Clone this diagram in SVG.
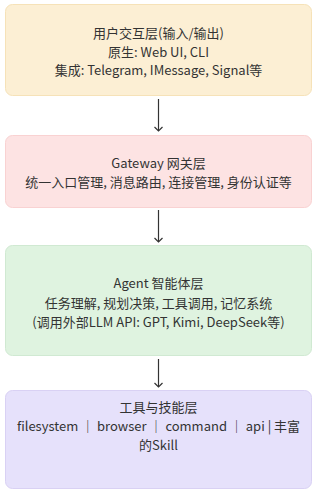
<svg xmlns="http://www.w3.org/2000/svg" width="317" height="493" viewBox="0 0 317 493">
<defs>
<style>
.t{font-family:"Noto Sans CJK SC","Noto Sans",sans-serif;font-size:13px;fill:#333;text-anchor:middle}
.c{stroke:#333;stroke-width:1.2;fill:none}
</style>
<marker id="ah" markerWidth="10" markerHeight="10" refX="5" refY="5" orient="auto" markerUnits="userSpaceOnUse" viewBox="0 0 10 10">
<path d="M1,1 L5,5 L1,9" fill="none" stroke="#333" stroke-width="1.2"/>
</marker>
</defs>
<rect width="317" height="493" fill="#ffffff"/>
<g id="n1">
<rect x="5.5" y="4.5" width="306" height="91" rx="7" fill="#fcefd4" stroke="#f6e2b8"/>
<text class="t" x="158.5" y="38">用户交互层(输入/输出)</text>
<text class="t" x="158.5" y="57">原生: Web UI, CLI</text>
<text class="t" x="158.5" y="75">集成: Telegram, IMessage, Signal等</text>
</g>
<g id="n2">
<rect x="5.5" y="135.5" width="306" height="72" rx="7" fill="#fde3e3" stroke="#f9d2d2"/>
<text class="t" x="158.5" y="168">Gateway 网关层</text>
<text class="t" x="158.5" y="187">统一入口管理, 消息路由, 连接管理, 身份认证等</text>
</g>
<g id="n3">
<rect x="5.5" y="245.5" width="306" height="110" rx="7" fill="#dff3e0" stroke="#d0e9d2"/>
<text class="t" x="158.5" y="288">Agent 智能体层</text>
<text class="t" x="158.5" y="308">任务理解, 规划决策, 工具调用, 记忆系统</text>
<text class="t" x="158.5" y="327">(调用外部LLM API: GPT, Kimi, DeepSeek等)</text>
</g>
<g id="n4">
<rect x="5.5" y="390.5" width="306" height="98" rx="7" fill="#e6e1fb" stroke="#d9d1f4"/>
<text class="t" x="158.5" y="412">工具与技能层</text>
<text class="t" x="158.5" y="431">filesystem ｜ browser ｜ command ｜ api | 丰富</text>
<text class="t" x="158.5" y="450">的Skill</text>
</g>
<g id="connectors">
<line class="c" x1="158.5" y1="99" x2="158.5" y2="131" marker-end="url(#ah)"/>
<line class="c" x1="158.5" y1="210" x2="158.5" y2="242" marker-end="url(#ah)"/>
<line class="c" x1="158.5" y1="359" x2="158.5" y2="387" marker-end="url(#ah)"/>
</g>
</svg>
